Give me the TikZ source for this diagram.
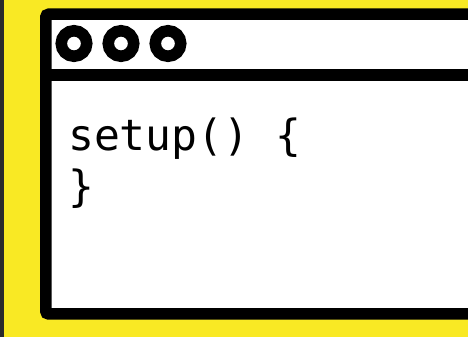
\documentclass[tikz,border=0pt]{standalone}
\usepackage{fontspec}
\setmonofont{DejaVu Sans Mono}
\definecolor{bgyellow}{RGB}{249,233,36}
\definecolor{stripgray}{RGB}{43,43,43}

\begin{document}
\begin{tikzpicture}[x=1pt,y=1pt,
	frame/.style={line width=11.5pt},
	codetext/.style={inner sep=0pt, anchor=base west, font=\ttfamily\fontsize{43}{48}\selectfont}]
	\useasboundingbox (0,0) rectangle (468,337);
	\clip (0,0) rectangle (468,337);
	%background
	\fill[bgyellow] (0,0) rectangle (468,337);
	\fill[stripgray] (0,0) rectangle (4,337);
	
	%window
	\draw[frame, fill=white, rounded corners=3pt] (45.75,23) rectangle (490,322.75);
	\draw[line width=12pt] (45.75,262) -- (490,262);
	
	%buttons
	\foreach \x in {74,121,168}
	\draw[line width=11.5pt] (\x,293.5) circle (12.75);
	
	%code
	\node[codetext] (line1) at (68,186) {setup() \{};
	\node[codetext] (line2) at (68,135) {\}};
\end{tikzpicture}
\end{document}
